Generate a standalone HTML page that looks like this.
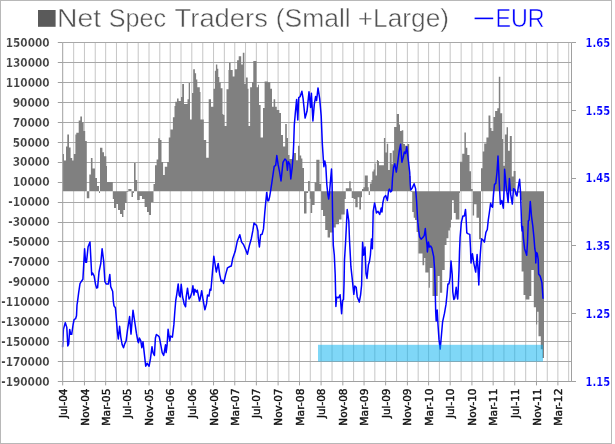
<!DOCTYPE html>
<html><head><meta charset="utf-8"><style>html,body{margin:0;padding:0;background:#fff;}svg{display:block;}</style></head><body>
<svg width="615" height="444" viewBox="0 0 615 444">
<rect x="0" y="0" width="615" height="444" fill="#fff"/>
<rect x="0.5" y="0.5" width="611" height="443" fill="none" stroke="#b8b8b8" stroke-width="1"/>
<rect x="38" y="10" width="17.6" height="16.8" fill="#5a5a5a"/>
<text x="57.1" y="27" font-family="Liberation Sans, sans-serif" font-size="25.8" fill="#525252" stroke="#fff" stroke-width="0.45" textLength="44.08" lengthAdjust="spacingAndGlyphs">Net</text>
<text x="108.83" y="27" font-family="Liberation Sans, sans-serif" font-size="25.8" fill="#525252" stroke="#fff" stroke-width="0.45" textLength="57.28" lengthAdjust="spacingAndGlyphs">Spec</text>
<text x="174.6" y="27" font-family="Liberation Sans, sans-serif" font-size="25.8" fill="#525252" stroke="#fff" stroke-width="0.45" textLength="93.25" lengthAdjust="spacingAndGlyphs">Traders</text>
<text x="275.77" y="27" font-family="Liberation Sans, sans-serif" font-size="25.8" fill="#525252" stroke="#fff" stroke-width="0.45" textLength="75.0" lengthAdjust="spacingAndGlyphs">(Small</text>
<text x="357.78" y="27" font-family="Liberation Sans, sans-serif" font-size="25.8" fill="#525252" stroke="#fff" stroke-width="0.45" textLength="91.24" lengthAdjust="spacingAndGlyphs">+Large)</text>
<line x1="474.6" y1="18.4" x2="493.2" y2="18.4" stroke="#0000ff" stroke-width="1.6"/>
<text x="495.5" y="26.7" font-family="Liberation Sans, sans-serif" font-size="25.4" fill="#0000ff" stroke="#fff" stroke-width="0.5" textLength="49.2" lengthAdjust="spacingAndGlyphs">EUR</text>
<path d="M73.66 42.5V381.5M84.45 42.5V381.5M95.24 42.5V381.5M105.67 42.5V381.5M116.46 42.5V381.5M127.25 42.5V381.5M138.21 42.5V381.5M149 42.5V381.5M159.79 42.5V381.5M170.22 42.5V381.5M181.01 42.5V381.5M191.8 42.5V381.5M202.77 42.5V381.5M213.55 42.5V381.5M224.34 42.5V381.5M234.78 42.5V381.5M245.56 42.5V381.5M256.35 42.5V381.5M267.32 42.5V381.5M278.1 42.5V381.5M288.89 42.5V381.5M299.5 42.5V381.5M310.29 42.5V381.5M321.08 42.5V381.5M332.04 42.5V381.5M342.83 42.5V381.5M353.62 42.5V381.5M364.05 42.5V381.5M374.84 42.5V381.5M385.63 42.5V381.5M396.59 42.5V381.5M407.38 42.5V381.5M418.17 42.5V381.5M428.6 42.5V381.5M439.39 42.5V381.5M450.18 42.5V381.5M461.14 42.5V381.5M471.93 42.5V381.5M482.72 42.5V381.5M493.15 42.5V381.5M503.94 42.5V381.5M514.73 42.5V381.5M525.69 42.5V381.5M536.48 42.5V381.5M547.27 42.5V381.5M557.88 42.5V381.5M568.67 42.5V381.5" stroke="#c6c6c6" stroke-width="1" fill="none"/>
<path d="M62.7 42.5H571.5M62.7 62.5H571.5M62.7 82.5H571.5M62.7 102.5H571.5M62.7 122.5H571.5M62.7 142.5H571.5M62.7 162.5H571.5M62.7 182.5H571.5M62.7 202.5H571.5M62.7 222.5H571.5M62.7 241.5H571.5M62.7 261.5H571.5M62.7 281.5H571.5M62.7 301.5H571.5M62.7 321.5H571.5M62.7 341.5H571.5M62.7 361.5H571.5M62.7 381.5H571.5" stroke="#a8a8a8" stroke-width="1" fill="none"/>
<path d="M62.7 191.3 L62.7 154 L64 154 L64 160.4 L66 160.4 L66 146.6 L67.3 146.6 L67.3 134.4 L69 134.4 L69 147.4 L70.6 147.4 L70.6 158 L72.2 158 L72.2 160.4 L73.8 160.4 L73.8 154 L75.4 154 L75.4 134.4 L76.3 134.4 L76.3 132.8 L78.7 132.8 L78.7 120.6 L80.3 120.6 L80.3 116.5 L82 116.5 L82 122.2 L83.6 122.2 L83.6 131 L85.2 131 L85.2 141 L86.8 141 L86.8 198.2 L89.3 198.2 L89.3 174.6 L90.9 174.6 L90.9 158 L92.5 158 L92.5 168.5 L95 168.5 L95 178 L97 178 L97 186 L99 186 L99 193 L100 193 L100 147.7 L102.4 147.7 L102.4 152.3 L104 152.3 L104 156.3 L106.3 156.3 L106.3 166 L107 166 L107 182 L112.8 182 L112.8 199 L114 199 L114 208 L116 208 L116 204 L118 204 L118 210 L120 210 L120 214 L122 214 L122 217 L123.4 217 L123.4 210 L125 210 L125 203 L126.7 203 L126.7 192 L128.3 192 L128.3 189 L131.5 189 L131.5 197 L133 197 L133 193 L134 193 L134 163 L135.6 163 L135.6 180 L137.2 180 L137.2 200 L139.7 200 L139.7 196 L142 196 L142 199 L144.6 199 L144.6 207 L147 207 L147 212 L149 212 L149 215 L151 215 L151 202 L153.5 202 L153.5 184 L155 184 L155 165.2 L156.6 165.2 L156.6 159.5 L158.2 159.5 L158.2 138.3 L159.9 138.3 L159.9 140 L161.5 140 L161.5 162 L163.1 162 L163.1 175 L164.8 175 L164.8 166.8 L167.2 166.8 L167.2 162 L168.8 162 L168.8 137.5 L170.4 137.5 L170.4 129.4 L172.9 129.4 L172.9 117.2 L174.5 117.2 L174.5 106 L175.3 106 L175.3 101.8 L177 101.8 L177 98.5 L178.6 98.5 L178.6 101 L181 101 L181 97 L182.2 97 L182.2 83.9 L184 83.9 L184 104 L187.5 104 L187.5 99.3 L188.7 99.3 L188.7 83 L190 83 L190 119.6 L192 119.6 L192 93 L193.2 93 L193.2 69.3 L194.9 69.3 L194.9 73.3 L196.1 73.3 L196.1 79.5 L197.3 79.5 L197.3 87.2 L199.8 87.2 L199.8 92 L200.5 92 L200.5 119.6 L203.8 119.6 L203.8 140 L206.2 140 L206.2 157.8 L208.7 157.8 L208.7 99.3 L211 99.3 L211 106.7 L213.5 106.7 L213.5 88.8 L214.9 88.8 L214.9 70.7 L215.9 70.7 L215.9 64.4 L217.3 64.4 L217.3 68.8 L218.3 68.8 L218.3 77 L219.3 77 L219.3 82.4 L220.7 82.4 L220.7 88.3 L222.5 88.3 L222.5 114 L223.3 114 L223.3 115 L224.5 115 L224.5 126 L226.5 126 L226.5 89.3 L228.5 89.3 L228.5 70 L229 70 L229 62.8 L230.6 62.8 L230.6 70 L232.7 70 L232.7 76.6 L234.7 76.6 L234.7 69.3 L237.1 69.3 L237.1 60.3 L238.7 60.3 L238.7 56.3 L241.2 56.3 L241.2 64.4 L242.8 64.4 L242.8 52.7 L244.4 52.7 L244.4 84 L246 84 L246 77.4 L247.7 77.4 L247.7 88.8 L248.5 88.8 L248.5 126 L250.1 126 L250.1 87.2 L252 87.2 L252 82.3 L253.3 82.3 L253.3 61 L256.5 61 L256.5 87.2 L258.1 87.2 L258.1 84.7 L259 84.7 L259 105 L260.6 105 L260.6 137.5 L263 137.5 L263 108 L264.6 108 L264.6 81.5 L267.9 81.5 L267.9 82.3 L270.3 82.3 L270.3 88.8 L272 88.8 L272 106.7 L273.6 106.7 L273.6 99.3 L275.2 99.3 L275.2 106.7 L276.8 106.7 L276.8 110 L279.3 110 L279.3 113 L281 113 L281 135 L283 135 L283 146.5 L285.2 146.5 L285.2 124 L286.8 124 L286.8 138 L288 138 L288 155 L289.5 155 L289.5 159 L293 159 L293 153 L296 153 L296 160.3 L298 160.3 L298 145.8 L299.6 145.8 L299.6 155.4 L301.2 155.4 L301.2 158.5 L302.4 158.5 L302.4 167.9 L304 167.9 L304 213.4 L306.5 213.4 L306.5 193 L308.1 193 L308.1 181 L309.8 181 L309.8 198.8 L310.6 198.8 L310.6 213 L312.2 213 L312.2 205 L314.6 205 L314.6 182.5 L316.3 182.5 L316.3 159.8 L319.5 159.8 L319.5 184 L321.1 184 L321.1 210 L323 210 L323 216 L325.2 216 L325.2 230 L327.6 230 L327.6 237.5 L330 237.5 L330 232.4 L333.3 232.4 L333.3 227.5 L335.8 227.5 L335.8 224.3 L339 224.3 L339 219.4 L341.5 219.4 L341.5 214.5 L344.7 214.5 L344.7 199 L345.8 199 L345.8 188.2 L349.2 188.2 L349.2 181.3 L350.7 181.3 L350.7 188.2 L351.7 188.2 L351.7 198 L353.7 198 L353.7 199 L355.3 199 L355.3 207.2 L357.7 207.2 L357.7 197.2 L359.3 197.2 L359.3 209.6 L361 209.6 L361 197.2 L362 197.2 L362 189 L363.4 189 L363.4 187.2 L364.8 187.2 L364.8 175.5 L367.8 175.5 L367.8 187.2 L368.7 187.2 L368.7 195 L369.9 195 L369.9 183.4 L371.5 183.4 L371.5 180 L372.3 180 L372.3 171.6 L373.6 171.6 L373.6 169.6 L374.6 169.6 L374.6 163.4 L375.6 163.4 L375.6 175.6 L376.9 175.6 L376.9 160 L378 160 L378 160.9 L379 160.9 L379 165.2 L383.9 165.2 L383.9 137.9 L385.3 137.9 L385.3 152.6 L386.8 152.6 L386.8 143.8 L388.2 143.8 L388.2 170.1 L389.7 170.1 L389.7 153 L391.7 153 L391.7 164.3 L392.6 164.3 L392.6 150.6 L394.1 150.6 L394.1 127 L396.8 127 L396.8 114 L399 114 L399 124.5 L400 124.5 L400 131 L401.7 131 L401.7 130.2 L403.3 130.2 L403.3 144 L405 144 L405 145.7 L407.4 145.7 L407.4 144 L409.2 144 L409.2 176 L410.7 176 L410.7 192 L412.2 192 L412.2 212 L413.7 212 L413.7 217.8 L415 217.8 L415 220 L416.6 220 L416.6 232 L418.4 232 L418.4 253.5 L422.5 253.5 L422.5 265.2 L424.2 265.2 L424.2 257.9 L425.3 257.9 L425.3 272.5 L428.7 272.5 L428.7 287.8 L429.8 287.8 L429.8 268 L432.5 268 L432.5 296 L437.7 296 L437.7 276 L440 276 L440 292.8 L442.2 292.8 L442.2 270 L444.7 270 L444.7 245 L446.5 245 L446.5 238.2 L448.4 238.2 L448.4 230.4 L449.9 230.4 L449.9 227.5 L450.9 227.5 L450.9 219.7 L452 219.7 L452 200.3 L453.8 200.3 L453.8 212.9 L455.7 212.9 L455.7 219.5 L459.4 219.5 L459.4 193 L460 193 L460 161.7 L462.2 161.7 L462.2 153.7 L464.4 153.7 L464.4 132.4 L465.9 132.4 L465.9 147.8 L467.3 147.8 L467.3 155.1 L469.5 155.1 L469.5 171.2 L471 171.2 L471 189 L472.7 189 L472.7 215.4 L474.1 215.4 L474.1 204.3 L476.5 204.3 L476.5 217.8 L479 217.8 L479 239.3 L481 239.3 L481 168.3 L482.7 168.3 L482.7 151.5 L484.2 151.5 L484.2 143.4 L486.4 143.4 L486.4 137.6 L488.5 137.6 L488.5 115.5 L490.4 115.5 L490.4 128 L491.5 128 L491.5 131 L493.4 131 L493.4 117 L495.1 117 L495.1 111.1 L497.3 111.1 L497.3 108.2 L498.8 108.2 L498.8 76.7 L500.3 76.7 L500.3 113.3 L502.2 113.3 L502.2 139 L503.2 139 L503.2 165.7 L504.9 165.7 L504.9 134.6 L506.6 134.6 L506.6 127.3 L508 127.3 L508 150.7 L509.8 150.7 L509.8 136.1 L511.8 136.1 L511.8 176.6 L513.6 176.6 L513.6 171 L515.6 171 L515.6 195 L517.5 195 L517.5 192.5 L521 192.5 L521 200 L521.6 200 L521.6 271.6 L523.5 271.6 L523.5 295 L525.5 295 L525.5 299.5 L529.4 299.5 L529.4 296 L531.3 296 L531.3 270 L533.8 270 L533.8 307.3 L536 307.3 L536 324.4 L537.2 324.4 L537.2 311.7 L538.5 311.7 L538.5 336.3 L540.8 336.3 L540.8 349.3 L542.5 349.3 L542.5 358 L544 358 L544 191.3 Z" fill="#808080" fill-rule="evenodd"/>
<polyline points="62.6,346.7 63.4,329.4 65.3,322.6 66.8,327.4 67.8,346 68.7,344 69.7,329.4 70.7,334.3 71.7,334.3 73.1,324.5 74.1,319.6 75.6,318.7 76.5,315.7 77,305 77.6,301.2 78.7,292.4 80,283.7 81.5,281.2 82.9,279.3 83.9,261.4 84.6,248.7 85.6,262.3 86.5,262.3 88.1,246.7 90,242 91.2,265.3 91.7,275 92.7,273.1 94.1,275.9 95.6,284.6 96.6,288 97.6,287.6 99,272 100.8,263.3 102.1,248.7 103.7,261.4 104.3,272 104.9,281.7 106.3,284.1 108.3,284.1 109.8,274.4 110.7,286.6 112.7,291.5 113.3,301 114,305.9 115.4,307.8 116.4,319.5 117.4,332.2 118.3,339 119.6,326.3 120.8,337.1 122.2,344.8 123.5,347.7 124.7,343.8 126.1,340.9 127.6,329.3 129.6,316.6 131,334.1 133,310.2 134.4,319.5 136.4,333.2 137.9,341.5 138.5,342.8 139.3,337.9 140.8,340.9 141.8,347.7 143,341.8 144.2,352.6 145.7,366.2 147.1,363.3 149.1,366.2 150.5,358.4 152,346.7 153,352.6 154.4,355.5 155.4,338 156.4,334.5 157.9,335.6 159.3,337.1 160.8,344.8 162.2,352.6 163.7,355.5 165.5,344.8 166.1,352.6 167.1,344.8 168.1,329.3 169.2,337 169.8,341 170.6,336.1 172.4,337.1 173.9,324.4 174.8,311.7 175.8,300 176.8,294.1 178.2,283.9 179.2,295.1 180.2,297 181.2,284.3 182.6,297 183.6,301 184.1,303.9 185.6,306.8 186.2,297 187.5,288.2 189,299 190.4,297 191.9,292.1 192.9,285.8 193.9,295.1 194.8,289.2 196.3,292.1 197.3,290.2 198.7,297 199.5,301 200.2,299 201.7,290.7 203.1,300 204.9,309.8 206.5,303.9 207.5,295.1 209,296 210,289.2 210.9,290.2 212.4,272.6 213.8,256.2 215.2,265 216.3,272 218.2,263.4 219.7,274.6 221.2,281.4 222.6,280.4 223.6,283.4 225.6,274.6 227.5,267.8 229.9,266.5 231.3,266 232.8,258.2 235.2,251.3 237.2,241.6 239.8,234.8 241.6,242.1 243.5,244.5 246,250.4 247.4,254.3 249.4,245.5 251.3,238.7 252.8,230.9 254,223.1 255.5,224.6 256.5,225.1 257.9,231 258.2,237.7 259.4,247 260.6,234.8 262.1,234.3 263.5,228.9 264.8,212.4 265.7,202.6 266.7,192.4 267.7,200.7 268.7,200.7 269.6,196.8 270.6,190.9 271.8,183 274.2,166.3 275.7,165.4 276.8,155.6 278.1,164.4 279.6,172.2 281,181 283,162.4 284.9,159 286.4,160.5 287.4,170.2 288.3,161.5 289.8,164.4 290.8,179 292.2,167.3 293.2,154.6 293.7,143.9 294.3,124.9 295.3,113.2 296.6,99.6 297.8,120 298.7,97.6 300.2,96.6 301.9,91.3 303.1,98.6 305.1,118.1 307,111.3 309,91.8 310.6,107.4 311.4,93.2 312.9,121 314.3,104.4 315.6,96.6 316.6,100.5 318,87.9 319.7,98.6 321.2,116.1 322.3,143.4 323.3,159 323.9,166.7 324.8,160.9 325.8,165.7 326.8,184.3 327.8,194 328.7,199 329.5,193 330.2,184.3 331.5,169.1 332.1,184.3 332.6,215 333.3,245.4 334.3,255 335.2,274.5 335.9,306.5 336.7,297.2 338.7,297.7 340.1,294.8 341.6,313.8 342.6,300.6 343.5,299.6 344,285 344.5,259.9 345.5,243.8 347.2,209.6 348.8,221 349.5,240 350.9,266.7 352.3,279.4 353.8,294.3 354.8,286 356.2,287.2 357.2,296.7 359.3,302.1 360.6,294.8 361.6,285 362.1,260.9 362.6,242.2 363.7,255.2 365,247 366,273.5 367,278.4 368.4,264.8 369.4,261.8 370.4,255 371.5,238.9 372.4,248.7 373.2,211.3 374.6,202.9 375.6,207.8 376.4,212.9 378,211.3 379.7,214.5 381.3,208 382,212 382.8,203 384.1,197.2 385.7,195.6 387.4,200.5 388.6,190.7 389.4,189.1 390.6,191.9 391.8,190.7 392.5,178 393.6,167.2 394.8,163.8 396.3,172.1 398,160.4 399.3,150.6 400.6,144.3 401.9,162.3 403.2,157.4 404.3,152.1 405.5,153.5 406.8,146.7 408.2,159.4 409.7,172.1 410.2,183.7 410.7,190 412.2,188.1 414.1,183.7 415.6,188.6 416.6,201.3 417.7,220.7 418.7,230.4 419.6,236.8 421.1,239.2 423,237.3 424.3,235.3 425.3,228.5 426,236.3 427,245 427.4,252 428.4,242 429.4,247 430.6,246 431.8,248 433.7,256.7 434.6,269.4 435.2,290 435.7,312 436.2,321 437.2,310 438,324.8 439,339.4 440.2,349.1 441.5,334.5 442.6,321.8 444.5,313.2 446,304.4 447,294.6 447.9,283.9 448.9,283.9 449.6,281 450.2,277.2 451,261.1 452.2,274.3 452.8,292 453.8,299.5 454.8,298 456.2,287.3 457.1,296 457.7,299 458.2,289.8 459,270 459.5,252 460.1,237.3 461.3,222.7 462.9,216 464.4,215.9 465.5,209.5 466,216 466.8,232.9 468.3,233.9 469.8,234.4 470.5,248 471,263.1 472.4,253.7 473.8,263.1 475.7,272.1 477.1,254.6 478.1,270.7 478.8,284.9 479.5,266.9 480.4,252.7 480.9,246 481.5,238.8 482.9,239.8 484.4,242.2 485.9,232.4 487.3,229.5 488.3,219.8 489.3,213 490.6,203.3 491.6,206.2 492.6,207.2 493.5,194.5 494.5,184.3 495.8,183.3 497,172 498,156 499.2,181 499.6,190 500.4,204.3 501.8,200.4 503.3,208.2 504.3,184.8 504.6,169.3 505.7,181 506.2,186.7 507.2,194.5 508.1,202.5 509.4,178.6 510.7,194.4 512.3,204.1 513.5,188.7 514.8,189.5 516,194.4 517,196 518.4,186.3 519.6,179.3 520.4,190.3 521.1,210 521.6,226 522.1,231 522.6,226.5 523.4,238 524.6,248.7 526.7,255.2 527.5,242.2 528.3,221 529.1,220 530.3,201.6 531.5,216.3 532.8,226 534,238 534.8,248.7 535.5,252.5 535.8,263 536.3,252.5 537.2,253.4 538.2,259.3 538.6,274 540.2,276.3 541.9,282.5 543,298.3" fill="none" stroke="#0000ff" stroke-width="1.5" stroke-linejoin="round" stroke-linecap="round"/>
<rect x="318" y="344.8" width="225" height="16.7" fill="#00b0f0" fill-opacity="0.5"/>
<path d="M62.7 42.5V381.5M62.7 381.5H571.5M571.5 42.5V381.5M57.8 42.5H62.7M57.8 62.5H62.7M57.8 82.5H62.7M57.8 102.5H62.7M57.8 122.5H62.7M57.8 142.5H62.7M57.8 162.5H62.7M57.8 182.5H62.7M57.8 202.5H62.7M57.8 222.5H62.7M57.8 241.5H62.7M57.8 261.5H62.7M57.8 281.5H62.7M57.8 301.5H62.7M57.8 321.5H62.7M57.8 341.5H62.7M57.8 361.5H62.7M57.8 381.5H62.7M571.5 42.5H576M571.5 110.5H576M571.5 178.5H576M571.5 245.5H576M571.5 313.5H576M571.5 381.5H576M62.7 381.5V385.4M84.45 381.5V385.4M105.67 381.5V385.4M127.25 381.5V385.4M149 381.5V385.4M170.22 381.5V385.4M191.8 381.5V385.4M213.55 381.5V385.4M234.78 381.5V385.4M256.35 381.5V385.4M278.1 381.5V385.4M299.5 381.5V385.4M321.08 381.5V385.4M342.83 381.5V385.4M364.05 381.5V385.4M385.63 381.5V385.4M407.38 381.5V385.4M428.6 381.5V385.4M450.18 381.5V385.4M471.93 381.5V385.4M493.15 381.5V385.4M514.73 381.5V385.4M536.48 381.5V385.4M557.88 381.5V385.4" stroke="#a0a0a0" stroke-width="1" fill="none"/>
<g font-family="DejaVu Sans, sans-serif" font-weight="bold" font-size="11.5" fill="#404040" stroke="#fff" stroke-width="0.18"><text x="49.6" y="46.8" text-anchor="end" textLength="43.9" lengthAdjust="spacingAndGlyphs">150000</text><text x="49.6" y="66.74" text-anchor="end" textLength="43.9" lengthAdjust="spacingAndGlyphs">130000</text><text x="49.6" y="86.68" text-anchor="end" textLength="43.9" lengthAdjust="spacingAndGlyphs">110000</text><text x="49.6" y="106.62" text-anchor="end" textLength="36.9" lengthAdjust="spacingAndGlyphs">90000</text><text x="49.6" y="126.56" text-anchor="end" textLength="36.9" lengthAdjust="spacingAndGlyphs">70000</text><text x="49.6" y="146.51" text-anchor="end" textLength="36.9" lengthAdjust="spacingAndGlyphs">50000</text><text x="49.6" y="166.45" text-anchor="end" textLength="36.9" lengthAdjust="spacingAndGlyphs">30000</text><text x="49.6" y="186.39" text-anchor="end" textLength="36.9" lengthAdjust="spacingAndGlyphs">10000</text><text x="49.6" y="206.33" text-anchor="end" textLength="41.3" lengthAdjust="spacingAndGlyphs">-10000</text><text x="49.6" y="226.27" text-anchor="end" textLength="41.3" lengthAdjust="spacingAndGlyphs">-30000</text><text x="49.6" y="246.21" text-anchor="end" textLength="41.3" lengthAdjust="spacingAndGlyphs">-50000</text><text x="49.6" y="266.15" text-anchor="end" textLength="41.3" lengthAdjust="spacingAndGlyphs">-70000</text><text x="49.6" y="286.09" text-anchor="end" textLength="41.3" lengthAdjust="spacingAndGlyphs">-90000</text><text x="49.6" y="306.04" text-anchor="end" textLength="48.3" lengthAdjust="spacingAndGlyphs">-110000</text><text x="49.6" y="325.98" text-anchor="end" textLength="48.3" lengthAdjust="spacingAndGlyphs">-130000</text><text x="49.6" y="345.92" text-anchor="end" textLength="48.3" lengthAdjust="spacingAndGlyphs">-150000</text><text x="49.6" y="365.86" text-anchor="end" textLength="48.3" lengthAdjust="spacingAndGlyphs">-170000</text><text x="49.6" y="385.8" text-anchor="end" textLength="48.3" lengthAdjust="spacingAndGlyphs">-190000</text></g>
<g font-family="DejaVu Sans, sans-serif" font-weight="bold" font-size="11.8" fill="#0000ff" stroke="#fff" stroke-width="0.18"><text x="585.6" y="46.8" textLength="24.6" lengthAdjust="spacingAndGlyphs">1.65</text><text x="585.6" y="114.6" textLength="24.6" lengthAdjust="spacingAndGlyphs">1.55</text><text x="585.6" y="182.4" textLength="24.6" lengthAdjust="spacingAndGlyphs">1.45</text><text x="585.6" y="250.2" textLength="24.6" lengthAdjust="spacingAndGlyphs">1.35</text><text x="585.6" y="318" textLength="24.6" lengthAdjust="spacingAndGlyphs">1.25</text><text x="585.6" y="385.8" textLength="24.6" lengthAdjust="spacingAndGlyphs">1.15</text></g>
<g font-family="DejaVu Sans, sans-serif" font-size="10.4" fill="#111" stroke="#111" stroke-width="0.4"><text transform="translate(66.8,388.5) rotate(-90)" text-anchor="end" textLength="29.6" lengthAdjust="spacingAndGlyphs">Jul-04</text><text transform="translate(88.55,388.5) rotate(-90)" text-anchor="end" textLength="37.2" lengthAdjust="spacingAndGlyphs">Nov-04</text><text transform="translate(109.77,388.5) rotate(-90)" text-anchor="end" textLength="37.2" lengthAdjust="spacingAndGlyphs">Mar-05</text><text transform="translate(131.35,388.5) rotate(-90)" text-anchor="end" textLength="29.6" lengthAdjust="spacingAndGlyphs">Jul-05</text><text transform="translate(153.1,388.5) rotate(-90)" text-anchor="end" textLength="37.2" lengthAdjust="spacingAndGlyphs">Nov-05</text><text transform="translate(174.32,388.5) rotate(-90)" text-anchor="end" textLength="37.2" lengthAdjust="spacingAndGlyphs">Mar-06</text><text transform="translate(195.9,388.5) rotate(-90)" text-anchor="end" textLength="29.6" lengthAdjust="spacingAndGlyphs">Jul-06</text><text transform="translate(217.65,388.5) rotate(-90)" text-anchor="end" textLength="37.2" lengthAdjust="spacingAndGlyphs">Nov-06</text><text transform="translate(238.88,388.5) rotate(-90)" text-anchor="end" textLength="37.2" lengthAdjust="spacingAndGlyphs">Mar-07</text><text transform="translate(260.45,388.5) rotate(-90)" text-anchor="end" textLength="29.6" lengthAdjust="spacingAndGlyphs">Jul-07</text><text transform="translate(282.2,388.5) rotate(-90)" text-anchor="end" textLength="37.2" lengthAdjust="spacingAndGlyphs">Nov-07</text><text transform="translate(303.6,388.5) rotate(-90)" text-anchor="end" textLength="37.2" lengthAdjust="spacingAndGlyphs">Mar-08</text><text transform="translate(325.18,388.5) rotate(-90)" text-anchor="end" textLength="29.6" lengthAdjust="spacingAndGlyphs">Jul-08</text><text transform="translate(346.93,388.5) rotate(-90)" text-anchor="end" textLength="37.2" lengthAdjust="spacingAndGlyphs">Nov-08</text><text transform="translate(368.15,388.5) rotate(-90)" text-anchor="end" textLength="37.2" lengthAdjust="spacingAndGlyphs">Mar-09</text><text transform="translate(389.73,388.5) rotate(-90)" text-anchor="end" textLength="29.6" lengthAdjust="spacingAndGlyphs">Jul-09</text><text transform="translate(411.48,388.5) rotate(-90)" text-anchor="end" textLength="37.2" lengthAdjust="spacingAndGlyphs">Nov-09</text><text transform="translate(432.7,388.5) rotate(-90)" text-anchor="end" textLength="37.2" lengthAdjust="spacingAndGlyphs">Mar-10</text><text transform="translate(454.28,388.5) rotate(-90)" text-anchor="end" textLength="29.6" lengthAdjust="spacingAndGlyphs">Jul-10</text><text transform="translate(476.03,388.5) rotate(-90)" text-anchor="end" textLength="37.2" lengthAdjust="spacingAndGlyphs">Nov-10</text><text transform="translate(497.25,388.5) rotate(-90)" text-anchor="end" textLength="37.2" lengthAdjust="spacingAndGlyphs">Mar-11</text><text transform="translate(518.83,388.5) rotate(-90)" text-anchor="end" textLength="29.6" lengthAdjust="spacingAndGlyphs">Jul-11</text><text transform="translate(540.58,388.5) rotate(-90)" text-anchor="end" textLength="37.2" lengthAdjust="spacingAndGlyphs">Nov-11</text><text transform="translate(561.98,388.5) rotate(-90)" text-anchor="end" textLength="37.2" lengthAdjust="spacingAndGlyphs">Mar-12</text></g>
</svg>
</body></html>
